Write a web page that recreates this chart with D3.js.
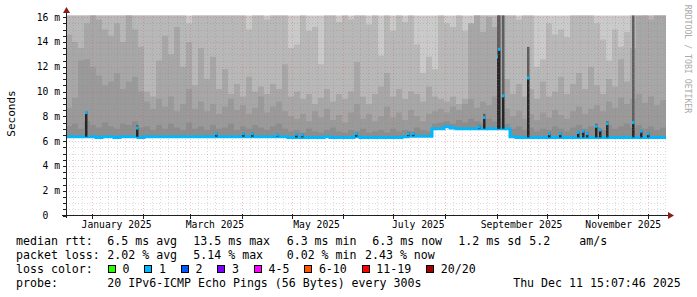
<!DOCTYPE html>
<html>
<head>
<meta charset="utf-8">
<script src="https://cdn.jsdelivr.net/npm/d3@7"></script>
<style>
  body { margin: 0; background: #fff; }
  svg { display: block; font-family: "DejaVu Sans Mono", monospace; }
  text { white-space: pre; }
</style>
</head>
<body>
<div id="chart"></div>
<script>
// graph covers 360 days ending at probe time, one column per 3.6 days
var tStart = new Date("2024-12-16T15:07:46Z");
var tEnd = new Date("2025-12-11T15:07:46Z");
var colDays = 3.6;

// median rtt per column (ms)
var median = [
  6.35,6.35,6.35,6.35,6.35,6.3,6.35,6.35,6.3,6.35,
  6.35,6.35,6.3,6.35,6.35,6.35,6.35,6.35,6.35,6.35,
  6.35,6.35,6.35,6.35,6.35,6.35,6.35,6.35,6.35,6.35,
  6.35,6.35,6.35,6.35,6.35,6.35,6.35,6.3,6.3,6.3,
  6.3,6.3,6.3,6.35,6.3,6.3,6.3,6.3,6.35,6.3,
  6.3,6.3,6.3,6.3,6.3,6.3,6.35,6.4,6.4,6.4,
  6.4,7.0,7.0,7.15,7.05,7.0,7.0,7.0,7.0,7.0,
  7.0,7.0,7.0,7.0,6.35,6.3,6.3,6.3,6.3,6.3,
  6.3,6.3,6.3,6.3,6.3,6.3,6.3,6.3,6.3,6.3,
  6.3,6.3,6.3,6.3,6.3,6.3,6.3,6.3,6.3,6.3
];

// smoke: upper edge of each ping band, outermost first (ms, > 16.1 is off the top)
var smoke1 = [
  16.5,16.5,16.5,16.5,16.5,16.5,16.5,16.5,16.5,16.5,
  16.5,16.5,16.5,16.5,16.5,16.5,16.5,16.5,16.5,16.5,
  16.5,16.5,16.5,16.5,16.5,16.5,16.5,16.5,16.5,16.5,
  16.5,16.5,16.5,16.5,16.5,16.5,16.5,16.5,16.5,16.5,
  16.5,16.5,16.5,16.5,16.5,16.5,16.5,16.5,16.5,16.5,
  16.5,16.5,16.5,16.5,16.5,16.5,16.5,16.5,16.5,16.5,
  16.5,16.5,16.5,16.5,16.5,16.5,16.5,16.5,16.5,16.5,
  16.5,16.5,16.5,16.5,16.5,16.5,16.5,16.5,16.5,16.5,
  16.5,16.5,16.5,16.5,16.5,16.5,16.5,16.5,16.5,16.5,
  16.5,16.5,16.5,16.5,16.5,16.5,16.5,16.5,16.5,16.5
];
var smoke2 = [
  16.5,16.5,16.5,16.5,16.5,16.5,16.5,16.5,16.5,16.5,
  16.5,16.5,16.5,16.5,16.5,16.5,16.5,16.5,16.5,16.5,
  15.5,16.5,16.5,16.5,16.5,16.5,16.5,16.5,16.5,16.5,
  15.0,16.5,16.5,15.8,16.5,16.5,16.5,13.5,13.8,16.5,
  14.9,15.2,12.2,16.5,16.5,15.6,16.5,15.8,16.5,16.5,
  15.4,16.5,12.9,16.5,14.9,16.5,15.6,16.5,13.8,11.5,
  12.8,11.8,16.5,15.5,15.2,16.5,14.9,15.4,16.5,16.5,
  16.5,16.5,16.5,16.5,16.5,15.8,16.5,16.5,12.0,12.6,
  15.5,14.6,15.0,14.4,16.5,16.5,16.5,16.5,15.5,14.2,
  12.5,15.0,13.6,14.8,16.5,15.4,16.5,16.5,16.5,16.5
];
var smoke3 = [
  14.6,14.0,13.5,15.5,16.5,15.8,15.0,14.5,15.5,14.0,
  16.5,15.0,13.6,10.0,9.6,12.5,14.5,13.0,15.2,12.0,
  14.0,10.5,13.5,11.0,12.8,10.2,11.8,9.8,10.6,9.6,
  11.2,10.0,10.4,9.8,10.6,10.2,12.2,9.6,10.0,9.4,
  9.8,9.0,9.5,10.2,9.2,9.8,9.4,10.0,12.4,9.6,
  9.0,9.8,10.4,11.5,9.6,10.2,9.4,10.0,9.8,9.2,
  10.4,9.6,9.4,9.2,9.6,9.0,9.4,15.5,16.5,14.8,
  16.0,15.2,16.5,11.0,9.8,10.6,9.6,10.2,9.4,10.8,
  9.6,10.0,11.2,9.8,10.6,11.5,10.2,12.0,10.5,9.8,
  11.0,10.4,12.6,10.8,13.5,16.5,16.5,15.8,16.5,16.5
];
var smoke4 = [
  8.7,9.5,12.5,12.6,12.0,11.3,10.5,10.8,11.5,10.2,
  10.8,11.2,10.0,9.2,8.6,9.4,8.8,9.6,8.4,9.0,
  10.2,8.6,9.2,8.4,9.0,8.2,8.8,9.4,8.5,8.9,
  8.2,8.7,9.6,8.3,8.8,9.2,8.4,8.0,7.8,8.2,
  7.6,8.4,7.9,8.6,7.7,8.1,7.5,8.3,9.0,7.8,
  8.2,7.6,8.0,8.8,7.9,8.3,7.7,8.5,8.0,7.6,
  8.2,8.4,8.6,8.3,8.8,8.5,9.0,9.4,8.7,9.2,
  8.9,9.6,9.6,8.6,8.0,8.4,7.8,8.2,7.7,8.3,
  7.9,8.5,8.1,7.8,8.4,8.8,8.2,8.6,8.9,8.4,
  9.2,8.7,9.5,9.0,9.4,9.8,9.1,9.6,8.9,9.3
];
var smoke5 = [
  7.2,7.4,7.0,7.6,7.3,7.1,7.5,7.2,7.0,7.4,
  7.3,7.6,7.1,7.2,6.9,7.3,7.0,7.4,7.1,6.9,
  7.5,7.0,7.2,6.9,7.3,7.0,7.1,7.4,6.9,7.2,
  7.0,7.3,7.1,6.9,7.2,7.4,7.0,6.8,6.9,6.7,
  7.0,6.8,6.7,6.9,7.1,6.8,6.7,6.9,6.8,7.0,
  6.7,6.8,6.9,6.7,7.0,6.8,6.9,6.8,7.1,6.9,
  6.8,7.4,7.5,7.6,7.4,7.7,7.5,7.8,7.6,7.5,
  7.8,7.6,7.8,7.4,7.0,7.2,6.9,7.1,6.8,7.0,
  6.9,7.2,7.0,6.8,7.1,7.3,7.0,7.2,7.1,6.9,
  7.3,7.0,7.2,7.4,7.1,7.3,7.0,7.2,6.9,7.1
];

// short median peaks: time, median rtt, top of the dark smoke above it
var spikeTimes = [
  "2024-12-28T15:00Z","2025-01-28T05:00Z","2025-03-16T22:00Z","2025-04-02T03:00Z",
  "2025-04-07T12:00Z","2025-04-22T12:00Z","2025-05-03T22:00Z","2025-05-07T05:00Z",
  "2025-06-08T15:00Z","2025-07-09T20:00Z","2025-07-12T20:00Z","2025-08-21T10:00Z",
  "2025-08-24T15:00Z","2025-09-01T13:00Z","2025-09-02T17:00Z","2025-09-04T13:00Z",
  "2025-09-19T13:00Z","2025-10-02T10:00Z","2025-10-09T01:00Z","2025-10-19T20:00Z",
  "2025-10-22T20:00Z","2025-10-25T05:00Z","2025-10-30T15:00Z","2025-11-02T05:00Z",
  "2025-11-06T10:00Z","2025-11-22T01:00Z","2025-11-26T20:00Z","2025-12-01T01:00Z"
];
var spikeRtt = [
  8.3,7.05,6.6,6.6, 6.6,6.5,6.55,6.5, 6.6,6.6,6.6,7.15,
  7.9,12.8,13.4,9.65, 11.1,6.6,6.6,6.7, 6.8,6.6,7.2,6.9,
  7.4,7.5,6.8,6.6
];
var spikeSmoke = [
  8.4,7.3,6.7,6.7, 6.7,6.6,6.65,6.6, 6.7,6.75,6.7,7.3,
  8.2,16.5,16.5,16.5, 13.6,6.7,6.7,6.8, 6.9,6.7,7.4,7.0,
  7.6,16.5,6.9,6.7
];

var yTicks = [0, 2, 4, 6, 8, 10, 12, 14, 16];
var monthLabels = ["January 2025", "March 2025", "May 2025", "July 2025", "September 2025", "November 2025"];
var monthLabelDates = ["2025-01-16", "2025-03-16", "2025-05-16", "2025-07-16", "2025-09-16", "2025-11-16"];

var rttStats = ["6.5 ms avg", "13.5 ms max", "6.3 ms min", "6.3 ms now", "1.2 ms sd", "5.2", "am/s"];
var lossStats = ["2.02 % avg", "5.14 % max", "0.02 % min", "2.43 % now"];
var lossLabels = ["0", "1", "2", "3", "4-5", "6-10", "11-19", "20/20"];
var lossColors = ["#26ff00", "#00b8ff", "#0059ff", "#7e00ff", "#ff00ff", "#ff5500", "#ff0000", "#a10000"];
var probeText = "20 IPv6-ICMP Echo Pings (56 Bytes) every 300s";
var stampText = "Thu Dec 11 15:07:46 2025";


var W = 697, H = 297;
var DAY = 864e5;
var plotL = 66, plotR = 666, plotT = 15.5, plotB = 215.5;

var svg = d3.select("#chart").append("svg")
    .attr("width", W)
    .attr("height", H);

var x = d3.scaleUtc().domain([tStart, tEnd]).range([plotL, plotR]);
var y = d3.scaleLinear().domain([0, 16.13]).range([plotB, plotT]);

function colTime(i) { return new Date(+tStart + i * colDays * DAY); }

svg.append("clipPath").attr("id", "plotclip")
  .append("rect").attr("x", plotL).attr("y", plotT).attr("width", plotR - plotL).attr("height", plotB - plotT);

var plot = svg.append("g").attr("clip-path", "url(#plotclip)");

// smoke bands, outer (light) to inner (dark)
var bands = [smoke1, smoke2, smoke3, smoke4, smoke5];
var bandColors = ["#cacaca", "#b8b8b8", "#a7a7a7", "#9a9a9a", "#8d8d8d"];

var area = d3.area()
    .curve(d3.curveStepAfter)
    .x(function(d) { return x(d.t); })
    .y0(function(d) { return y(d.lo); })
    .y1(function(d) { return y(d.hi); });

bands.forEach(function(band, k) {
  var pts = band.map(function(v, i) { return {t: colTime(i), lo: median[i], hi: v}; });
  pts.push({t: tEnd, lo: median[median.length - 1], hi: band[band.length - 1]});
  plot.append("path").datum(pts)
    .attr("fill", bandColors[k])
    .attr("d", area);
});

// grid (faint dotted, drawn over the smoke)
var grid = svg.append("g").attr("clip-path", "url(#plotclip)")
    .attr("shape-rendering", "crispEdges");

var minorY = d3.range(0.5, 16.01, 0.5).filter(function(v) { return v % 2 !== 0; });
var majorY = yTicks.filter(function(v) { return v > 0; });
var majorX = d3.utcMonth.range(tStart, tEnd);
var minorX = d3.utcDay.range(tStart, tEnd).filter(function(d) {
  return [6, 11, 16, 21, 26].indexOf(d.getUTCDate()) >= 0;
});
var minorCol = "rgba(130,130,130,0.28)", majorCol = "rgba(215,70,70,0.32)";

grid.selectAll(".gy").data(minorY).enter().append("line")
  .attr("x1", plotL).attr("x2", plotR)
  .attr("y1", function(d) { return Math.round(y(d)) + 0.5; })
  .attr("y2", function(d) { return Math.round(y(d)) + 0.5; })
  .attr("stroke", minorCol).attr("stroke-dasharray", "1,2");

grid.selectAll(".gx").data(minorX).enter().append("line")
  .attr("y1", plotT).attr("y2", plotB)
  .attr("x1", function(d) { return Math.round(x(d)) + 0.5; })
  .attr("x2", function(d) { return Math.round(x(d)) + 0.5; })
  .attr("stroke", minorCol).attr("stroke-dasharray", "1,2");

grid.selectAll(".my").data(majorY).enter().append("line")
  .attr("x1", plotL).attr("x2", plotR)
  .attr("y1", function(d) { return Math.round(y(d)) + 0.5; })
  .attr("y2", function(d) { return Math.round(y(d)) + 0.5; })
  .attr("stroke", majorCol).attr("stroke-dasharray", "1,2");

grid.selectAll(".mx").data(majorX).enter().append("line")
  .attr("y1", plotT).attr("y2", plotB)
  .attr("x1", function(d) { return Math.round(x(d)) + 0.5; })
  .attr("x2", function(d) { return Math.round(x(d)) + 0.5; })
  .attr("stroke", majorCol).attr("stroke-dasharray", "1,2");

// median line (loss 1 colour)
var medPts = median.map(function(v, i) { return {t: colTime(i), v: v}; });
medPts.push({t: tEnd, v: median[median.length - 1]});

plot.append("path").datum(medPts)
  .attr("fill", "none")
  .attr("stroke", lossColors[1])
  .attr("stroke-width", 3)
  .attr("d", d3.line().curve(d3.curveStepAfter)
    .x(function(d) { return x(d.t); })
    .y(function(d) { return y(d.v); }));

// spikes
var spikes = spikeTimes.map(function(s, i) {
  var t = new Date(s);
  var idx = Math.floor((t - tStart) / (colDays * DAY));
  return {t: t, rtt: spikeRtt[i], smoke: spikeSmoke[i], base: median[idx]};
});

var sp = plot.selectAll(".spike").data(spikes).enter().append("g");
sp.append("rect")
  .attr("x", function(d) { return Math.round(x(d.t)) - 1; })
  .attr("width", 2.5)
  .attr("y", function(d) { return y(d.smoke); })
  .attr("height", function(d) { return Math.max(0, y(d.rtt) - y(d.smoke)); })
  .attr("fill", "#5e5e5e");
sp.append("rect")
  .attr("x", function(d) { return Math.round(x(d.t)) - 1; })
  .attr("width", 2.5)
  .attr("y", function(d) { return y(d.rtt); })
  .attr("height", function(d) { return Math.max(0, y(d.base) - y(d.rtt)); })
  .attr("fill", "#262626");
sp.append("rect")
  .attr("x", function(d) { return Math.round(x(d.t)) - 1; })
  .attr("width", 2.5)
  .attr("y", function(d) { return y(d.rtt) - 1.5; })
  .attr("height", 3)
  .attr("fill", lossColors[1]);

// axes
var ax = svg.append("g").attr("shape-rendering", "crispEdges");
ax.append("line").attr("x1", 62).attr("x2", 669).attr("y1", plotB).attr("y2", plotB)
  .attr("stroke", "#1f1f1f");
ax.append("line").attr("x1", plotL + 0.5).attr("x2", plotL + 0.5).attr("y1", 218).attr("y2", 12)
  .attr("stroke", "#1f1f1f");

ax.selectAll(".ty").data(d3.range(0, 16.01, 0.5)).enter().append("line")
  .attr("x1", 63).attr("x2", plotL)
  .attr("y1", function(d) { return Math.round(y(d)) + 0.5; })
  .attr("y2", function(d) { return Math.round(y(d)) + 0.5; })
  .attr("stroke", "#1f1f1f");

ax.selectAll(".tx").data(majorX).enter().append("line")
  .attr("y1", plotB - 2).attr("y2", plotB + 3)
  .attr("x1", function(d) { return Math.round(x(d)) + 0.5; })
  .attr("x2", function(d) { return Math.round(x(d)) + 0.5; })
  .attr("stroke", "#1f1f1f");

svg.append("path").attr("d", "M668,212L668,219L674,215.5Z").attr("fill", "#8b1a1a");
svg.append("path").attr("d", "M63,13L70,13L66.5,7Z").attr("fill", "#8b1a1a");

// tick labels
var tl = svg.append("g").attr("font-size", "9.7px").attr("fill", "#000");
tl.selectAll(".yn").data(yTicks).enter().append("text")
  .attr("x", 48.4)
  .attr("y", function(d) { return y(d) + 3.5; })
  .attr("text-anchor", "end")
  .text(function(d) { return String(d); });
tl.selectAll(".yu").data(majorY).enter().append("text")
  .attr("x", 54.2)
  .attr("y", function(d) { return y(d) + 3.5; })
  .text("m");

tl.selectAll(".xl").data(monthLabels).enter().append("text")
  .attr("x", function(d, i) { return x(new Date(monthLabelDates[i] + "T00:00:00Z")); })
  .attr("y", 228)
  .attr("text-anchor", "middle")
  .text(function(d) { return d; });

svg.append("text")
  .attr("transform", "translate(14.5,113.5) rotate(-90)")
  .attr("text-anchor", "middle")
  .attr("font-size", "11px")
  .text("Seconds");

svg.append("text")
  .attr("transform", "translate(685,59) rotate(90)")
  .attr("text-anchor", "middle")
  .attr("font-size", "8.2px")
  .attr("fill", "#aaaaaa")
  .text("RRDTOOL / TOBI OETIKER");

// legend
var lg = svg.append("g").attr("font-size", "11.6px").attr("fill", "#000");
var rttX = [107.3, 193.3, 286.7, 372.3, 458.3, 529.3, 579.3];
var lossX = [107.3, 193.3, 286.7, 365];

lg.append("text").attr("x", 16).attr("y", 245).text("median rtt:");
lg.selectAll(".r1").data(rttStats).enter().append("text")
  .attr("x", function(d, i) { return rttX[i]; }).attr("y", 245)
  .text(function(d) { return d; });

lg.append("text").attr("x", 16).attr("y", 259).text("packet loss:");
lg.selectAll(".r2").data(lossStats).enter().append("text")
  .attr("x", function(d, i) { return lossX[i]; }).attr("y", 259)
  .text(function(d) { return d; });

lg.append("text").attr("x", 16).attr("y", 273).text("loss color:");
var bx = 108;
lossLabels.forEach(function(lab, i) {
  lg.append("rect").attr("x", bx + 0.5).attr("y", 265.5).attr("width", 7).attr("height", 7)
    .attr("fill", lossColors[i]).attr("stroke", "#000").attr("stroke-width", 1)
    .attr("shape-rendering", "crispEdges");
  var t = lg.append("text").attr("x", bx + 14.5).attr("y", 273).text(lab);
  bx = bx + 14.5 + t.node().getComputedTextLength() + 15;
});

lg.append("text").attr("x", 16).attr("y", 287).text("probe:");
lg.append("text").attr("x", 107.3).attr("y", 287).text(probeText);
lg.append("text").attr("x", 680.7).attr("y", 287).attr("text-anchor", "end").text(stampText);
</script>
</body>
</html>
